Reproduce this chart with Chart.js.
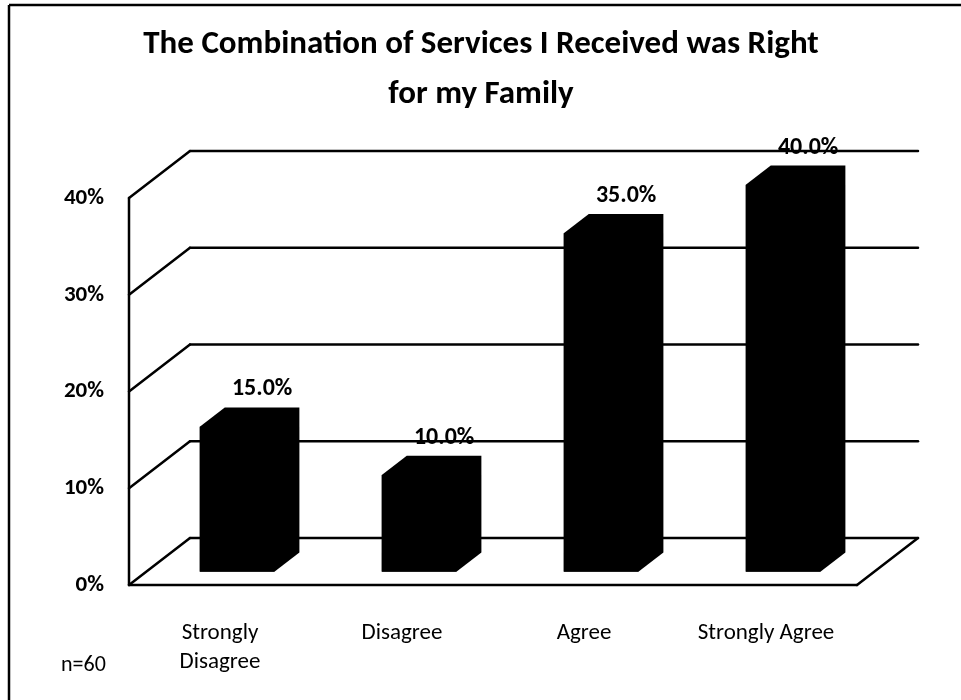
<!DOCTYPE html>
<html>
<head>
<meta charset="utf-8">
<title>Combination of Services</title>
<script src="https://cdn.jsdelivr.net/npm/chart.js@4.4.1/dist/chart.umd.min.js"></script>
<style>
  html, body { margin: 0; padding: 0; background: #fff; }
  canvas { display: block; }
</style>
</head>
<body>
<canvas id="servicesChart" width="961" height="700"></canvas>
<script>
// Survey responses (n=60)
const categories = [['Strongly', 'Disagree'], 'Disagree', 'Agree', 'Strongly Agree'];
const shares = [15, 10, 35, 40];
const yTicks = [0, 10, 20, 30, 40];
const titleLines = ['The Combination of Services I Received was Right', 'for my Family'];
const sampleNote = 'n=60';

const FONT = 'Carlito, Calibri, Lato, sans-serif';
Chart.defaults.font.family = FONT;
Chart.defaults.color = '#000';

// 3D look: full depth of the floor, and where the bars sit inside it
const DEPTH = { x: 61, y: -47 };
const BAR_FRONT = 0.28;
const BAR_DEPTH = 0.41;

function line(ctx, x1, y1, x2, y2) {
    ctx.beginPath();
    ctx.moveTo(x1, y1);
    ctx.lineTo(x2, y2);
    ctx.stroke();
}

const depth3d = {
    id: 'depth3d',
    beforeDatasetsDraw(chart) {
        const { ctx, chartArea: a, scales: { y } } = chart;
        ctx.save();
        ctx.strokeStyle = '#000';
        ctx.lineWidth = 2.5;
        ctx.lineCap = 'round';
        // back wall gridlines + side wall slants
        yTicks.forEach(v => {
            const py = y.getPixelForValue(v);
            line(ctx, a.left, py, a.left + DEPTH.x, py + DEPTH.y);
            line(ctx, a.left + DEPTH.x, py + DEPTH.y, a.right + DEPTH.x, py + DEPTH.y);
        });
        // floor front and right edges
        const base = y.getPixelForValue(0);
        line(ctx, a.left, base, a.right, base);
        line(ctx, a.right, base, a.right + DEPTH.x, base + DEPTH.y);
        // value axis
        line(ctx, a.left, y.getPixelForValue(yTicks[yTicks.length - 1]), a.left, base);
        ctx.restore();
    },
    beforeDatasetDraw(chart) {
        chart.ctx.save();
        chart.ctx.translate(DEPTH.x * BAR_FRONT, DEPTH.y * BAR_FRONT);
    },
    afterDatasetDraw(chart, args) {
        const ctx = chart.ctx;
        const dx = DEPTH.x * BAR_DEPTH, dy = DEPTH.y * BAR_DEPTH;
        ctx.fillStyle = '#000';
        chart.getDatasetMeta(args.index).data.forEach(bar => {
            const l = bar.x - bar.width / 2, r = bar.x + bar.width / 2;
            ctx.beginPath();
            ctx.moveTo(l, bar.base);
            ctx.lineTo(l, bar.y);
            ctx.lineTo(l + dx, bar.y + dy);
            ctx.lineTo(r + dx, bar.y + dy);
            ctx.lineTo(r + dx, bar.base + dy);
            ctx.lineTo(r, bar.base);
            ctx.closePath();
            ctx.fill();
        });
        ctx.restore();
    },
    afterDatasetsDraw(chart) {
        const ctx = chart.ctx;
        // value labels sit above the back edge of each bar top
        const ox = DEPTH.x * (BAR_FRONT + BAR_DEPTH);
        const oy = DEPTH.y * (BAR_FRONT + BAR_DEPTH);
        ctx.save();
        ctx.fillStyle = '#000';
        ctx.font = 'bold 24px ' + FONT;
        ctx.textAlign = 'center';
        ctx.textBaseline = 'middle';
        chart.getDatasetMeta(0).data.forEach((bar, i) => {
            ctx.fillText(shares[i].toFixed(1) + '%', bar.x + ox, bar.y + oy - 18);
        });
        ctx.restore();
    },
    afterDraw(chart) {
        const ctx = chart.ctx;
        ctx.save();
        // outer frame
        ctx.strokeStyle = '#000';
        ctx.lineWidth = 2.5;
        line(ctx, 9, 5, 9, 700);
        line(ctx, 9, 5, 961, 5);
        ctx.fillStyle = '#000';
        ctx.textBaseline = 'middle';
        // title, centred on the whole frame
        ctx.font = 'bold 33px ' + FONT;
        ctx.textAlign = 'center';
        titleLines.forEach((t, i) => ctx.fillText(t, 481, 45 + i * 50));
        // sample size note
        ctx.font = '22px ' + FONT;
        ctx.textAlign = 'left';
        ctx.fillText(sampleNote, 61, 665);
        ctx.restore();
    }
};

new Chart(document.getElementById('servicesChart'), {
    type: 'bar',
    data: {
        labels: categories,
        datasets: [{
            data: shares,
            backgroundColor: '#000',
            borderWidth: 0,
            categoryPercentage: 1,
            barPercentage: 0.41
        }]
    },
    options: {
        responsive: false,
        animation: false,
        layout: { padding: { left: 9, right: 104, top: 198, bottom: 0 } },
        plugins: {
            legend: { display: false },
            tooltip: { enabled: false },
            title: { display: false }
        },
        scales: {
            x: {
                grid: { display: false },
                border: { display: false },
                ticks: {
                    maxRotation: 0,
                    padding: 26,
                    font: { size: 23, lineHeight: 1.25 }
                },
                afterFit(scale) { scale.height = 115; }
            },
            y: {
                min: 0,
                max: 40,
                grid: { display: false },
                border: { display: false },
                afterBuildTicks(scale) { scale.ticks = yTicks.map(v => ({ value: v })); },
                ticks: {
                    padding: 17,
                    font: { size: 23, weight: 'bold' },
                    callback: v => v + '%'
                },
                afterFit(scale) { scale.width = 120; }
            }
        }
    },
    plugins: [depth3d]
});
</script>
</body>
</html>
